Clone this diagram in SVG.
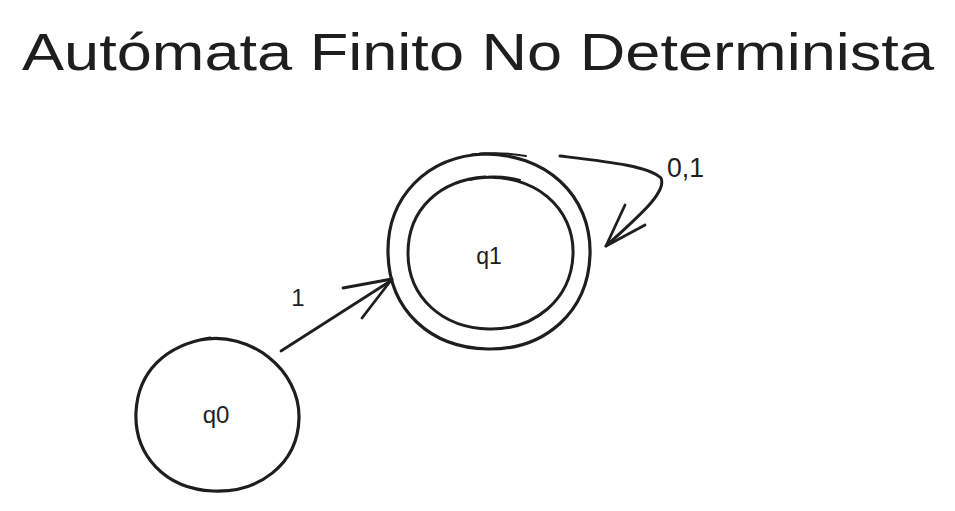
<svg xmlns="http://www.w3.org/2000/svg" width="955" height="511" viewBox="0 0 955 511">
<defs>
<style>
.s{fill:none;stroke:#1e1e1e;stroke-linecap:round;stroke-linejoin:round}
.t{fill:#1e1e1e;font-family:"Liberation Sans",Arial,sans-serif}
</style>
</defs>
<rect width="955" height="511" fill="#ffffff"/>
<text class="t" x="22" y="70" font-size="52" textLength="912" lengthAdjust="spacingAndGlyphs">Autómata Finito No Determinista</text>
<g id="q0">
<path class="s" stroke-width="3.2" d="M200 340 C250 330 300 370 299 418 C298 465 258 493 213 491 C165 489 134 455 136 412 C138 372 165 345 210 338"/>
<text class="t" x="216" y="423" font-size="24" text-anchor="middle">q0</text>
</g>
<g id="q1">
<path class="s" stroke-width="3.2" d="M480 154 C545 152 592 195 590 255 C588 312 545 350 488 349 C430 348 389 310 388 253 C387 197 427 156 485 154"/>
<path class="s" stroke-width="3" d="M478 178 C534 172 575 208 573 255 C571 300 534 330 489 329 C443 328 408 298 408 253 C408 209 440 180 485 177"/>
<path class="s" stroke-width="2" d="M472 154.5 C490 152.5 510 153 526 156"/>
<path class="s" stroke-width="2" d="M470 180 C488 175 505 176 520 180"/>
<text class="t" x="489" y="264" font-size="23" text-anchor="middle">q1</text>
</g>
<g id="connectors">
<path class="s" stroke-width="2.8" d="M281 351 L392 280"/>
<path class="s" stroke-width="2.8" d="M343 288 L392 279 L362 318"/>
<path class="s" stroke-width="3" d="M560 156 C610 162 648 166 661 178 C667 192 640 215 606 246"/>
<path class="s" stroke-width="2.8" d="M625 205 L606 246 L645 225"/>
</g>
<g id="labels">
<text class="t" x="298" y="306" font-size="24" text-anchor="middle">1</text>
<text class="t" x="667" y="177" font-size="28" textLength="37" lengthAdjust="spacingAndGlyphs">0,1</text>
</g>
</svg>
